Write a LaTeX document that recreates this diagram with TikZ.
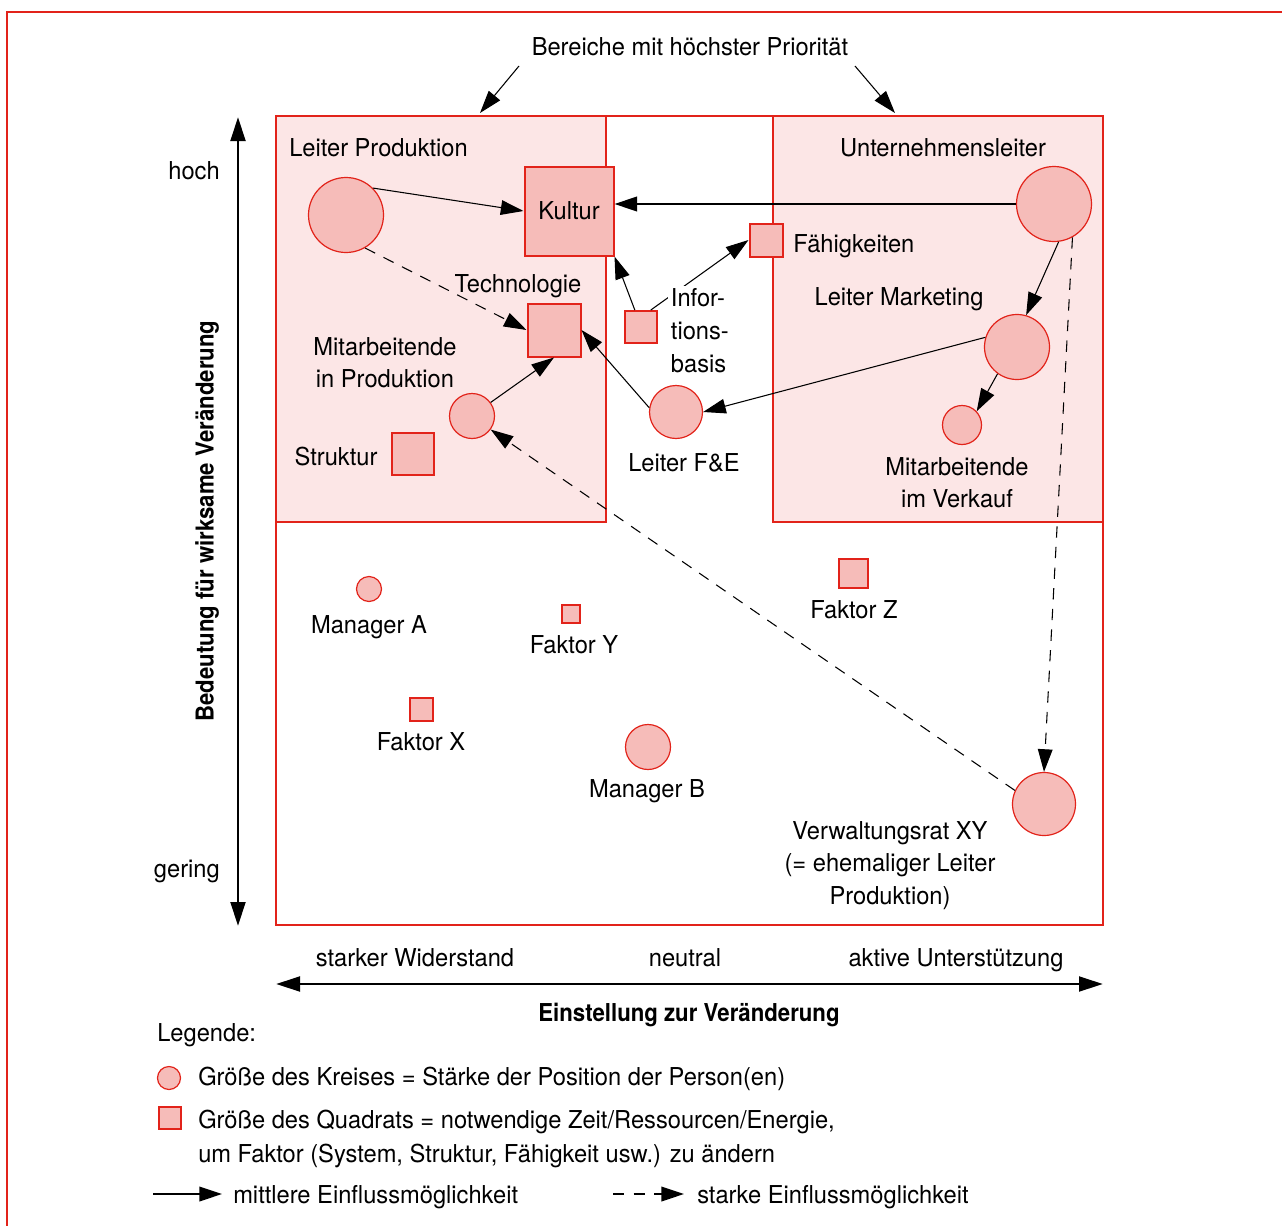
\documentclass[tikz,border=0pt]{standalone}
\usepackage{fontspec}
\setmainfont{TeX Gyre Heros}[FakeStretch=0.96]
\newfontfamily\bcond{TeX Gyre Heros}[FakeStretch=0.9]
\usetikzlibrary{arrows.meta}
\definecolor{myred}{HTML}{E2231A}
\definecolor{mypink}{HTML}{F6BCB9}
\definecolor{areapink}{HTML}{FCE6E6}
\begin{document}
\begin{tikzpicture}[x=0.75pt,y=-0.75pt,
  every node/.style={font=\fontsize{18.5pt}{24.5pt}\selectfont, inner sep=0pt},
  pcirc/.style={circle, draw=myred, fill=mypink, line width=0.9pt, minimum size={(2*#1-1)*0.75pt}},
  psq/.style={rectangle, draw=myred, fill=mypink, line width=1.5pt, minimum size={(#1-2)*0.75pt}},
  tb/.style={anchor=base},
  tbw/.style={anchor=base west},
  ml/.style={align=center, anchor=north},
  arr/.style={-{Triangle[length=17pt,width=11pt]}, line width=0.8pt},
  darr/.style={arr, dash pattern=on 8.5pt off 7pt},
  axis/.style={{Triangle[length=18pt,width=11pt]}-{Triangle[length=18pt,width=11pt]}, line width=2.2pt},
  frame/.style={myred, line width=1.5pt}]
\useasboundingbox (0,0) rectangle (1282,1225);
% outer frame
\draw[myred, line width=2pt] (7,1240) -- (7,12) -- (1300,12);
% areas
\fill[areapink] (276,116) rectangle (606,522);
\fill[areapink] (773,116) rectangle (1103,522);
\draw[frame] (276,116) rectangle (1103,925);
\draw[frame] (276,522) -- (606,522) -- (606,116);
\draw[frame] (773,116) -- (773,522) -- (1103,522);
% title
\node[tb] (title) at (690,55) {Bereiche mit höchster Priorität};
\coordinate (t1s) at (519,66); \coordinate (t1e) at (480,113);
\coordinate (t2s) at (855,66); \coordinate (t2e) at (895,113);
\draw[arr] (t1s) -- (t1e);
\draw[arr] (t2s) -- (t2e);
% axes
\coordinate (vtop) at (238,117); \coordinate (vbot) at (238,926);
\draw[axis] (vbot) -- (vtop);
\node[anchor=base east] (hoch) at (220,179) {hoch};
\node[anchor=base east] (gering) at (220,877) {gering};
\node[rotate=90, font=\bcond\bfseries\fontsize{18.5pt}{24.5pt}\selectfont] (ylab) at (207,521) {Bedeutung für wirksame Veränderung};
\coordinate (hl) at (276,984); \coordinate (hr) at (1103,984);
\draw[axis] (hl) -- (hr);
\node[tb] (sw) at (415,966) {starker Widerstand};
\node[tb] (neu) at (685,966) {neutral};
\node[tb] (aU) at (956,966) {aktive Unterstützung};
\node[tb, font=\bcond\bfseries\fontsize{18.5pt}{24.5pt}\selectfont] (xlab) at (689,1021) {Einstellung zur Veränderung};
% persons (circles)
\node[pcirc=38] (lp) at (346,215) {};
\node[pcirc=38] (ul) at (1054,204) {};
\node[pcirc=33] (lm) at (1017,347) {};
\node[pcirc=23] (mp) at (472,416) {};
\node[pcirc=27] (lfe) at (676,412) {};
\node[pcirc=20] (mv) at (962,425) {};
\node[pcirc=13] (ma) at (369,589) {};
\node[pcirc=23] (mb) at (648,747) {};
\node[pcirc=32] (vr) at (1044,804) {};
% factors (squares)
\node[psq=91] (kultur) at (569,211) {Kultur};
\node[psq=35] (fah) at (766,240) {};
\node[psq=55] (tech) at (554,330) {};
\node[psq=34] (info) at (641,327) {};
\node[psq=44] (str) at (413,454) {};
\node[psq=20] (fy) at (571,614) {};
\node[psq=31] (fz) at (853,573) {};
\node[psq=25] (fx) at (421,709) {};
% arrows
\draw[arr] (lp.45) -- (kultur.west);
\draw[arr, line width=1.5pt] (ul.west) -- (kultur.east |- ul.west);
\draw[darr] (lp.-60) -- (tech.west);
\draw[arr] (mp.36) -- (tech.south);
\draw[arr] (lfe.171) -- (tech.east);
\draw[arr] (info.110) -- (kultur.south east);
\draw[arr] (info.60) -- (fah.west);
\draw[arr] (ul.-83) -- (lm.74);
\draw[arr] (lm.163) -- (lfe.east);
\draw[arr] (lm.-126) -- (mv.43);
\draw[darr] (ul.-61) -- (vr.north);
\draw[darr] (vr.155) -- (mp.-36);
% labels
\node[tbw] (lLP) at (289,156) {Leiter Produktion};
\node[tb] (lUL) at (943,156) {Unternehmensleiter};
\node[tbw] (lF) at (793,252) {Fähigkeiten};
\node[tb] (lT) at (518,292) {Technologie};
\node[tb] (lLM) at (899,305) {Leiter Marketing};
\node[align=left, anchor=north west, fill=white, inner sep=2pt] (lI) at (668,286) {Infor-\\tions-\\basis};
\node[ml] (lMP) at (385,337) {Mitarbeitende\\in Produktion};
\node[tb] (lS) at (336,465) {Struktur};
\node[tb] (lLFE) at (684,471) {Leiter F\&E};
\node[ml] (lMV) at (957,457) {Mitarbeitende\\im Verkauf};
\node[tb] (lMA) at (369,633) {Manager A};
\node[tb] (lFY) at (574,653) {Faktor Y};
\node[tb] (lFZ) at (854,618) {Faktor Z};
\node[tb] (lFX) at (421,750) {Faktor X};
\node[tb] (lMB) at (647,797) {Manager B};
\node[ml] (lVR) at (890,821) {Verwaltungsrat XY\\(= ehemaliger Leiter\\Produktion)};
% legend
\node[tbw] (leg) at (157,1041) {Legende:};
\node[pcirc=12] (legc) at (169,1078) {};
\node[tbw] (legct) at (198,1085) {Größe des Kreises = Stärke der Position der Person(en)};
\node[psq=24] (legs) at (170,1118) {};
\node[tbw] (legst1) at (198,1128) {Größe des Quadrats = notwendige Zeit/Ressourcen/Energie,};
\node[tbw] (legst2) at (198,1162) {um Faktor (System, Struktur, Fähigkeit usw.) zu ändern};
\coordinate (la1) at (153,1194); \coordinate (la2) at (222,1194);
\draw[arr, line width=1.2pt] (la1) -- (la2);
\node[tbw] (lat) at (233,1203) {mittlere Einflussmöglichkeit};
\coordinate (lb1) at (613,1194); \coordinate (lb2) at (684,1194);
\draw[darr, line width=1.2pt] (lb1) -- (lb2);
\node[tbw] (lbt) at (697,1203) {starke Einflussmöglichkeit};
\end{tikzpicture}
\end{document}
